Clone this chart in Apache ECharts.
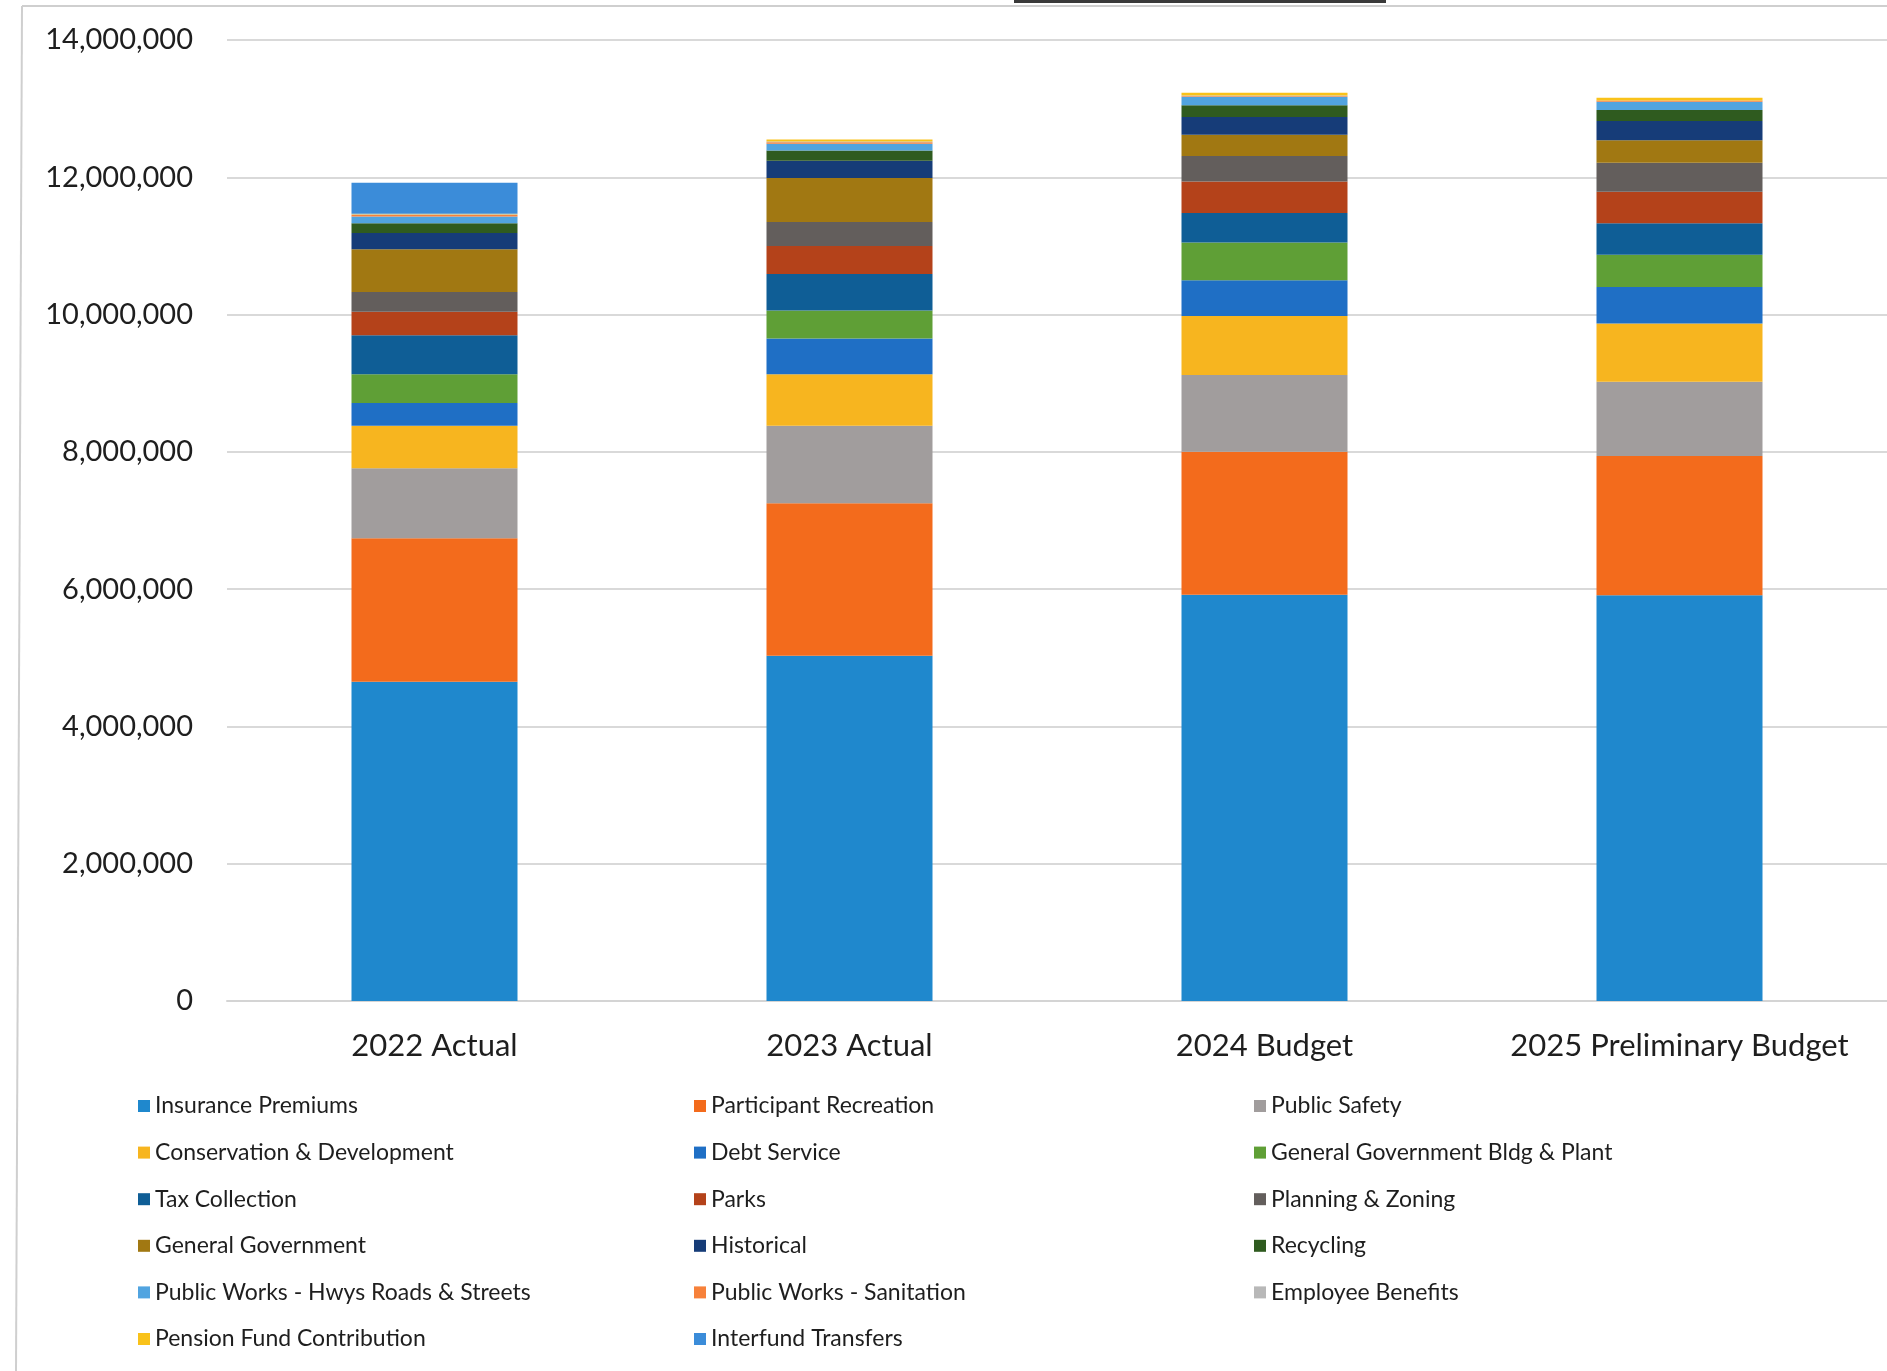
<!DOCTYPE html>
<html>
<head>
<meta charset="utf-8">
<title>Expenditures by Function</title>
<script src="https://cdn.jsdelivr.net/npm/echarts@6/dist/echarts.min.js"></script>
<style>
  html, body { margin: 0; padding: 0; background: #ffffff; }
  #chart { width: 1887px; height: 1371px; }
</style>
</head>
<body>
<div id="chart"></div>
<script>
// Budget years shown on the category axis
const categories = ['2022 Actual', '2023 Actual', '2024 Budget', '2025 Preliminary Budget'];

// Value axis ticks
const axisMin = 0;
const axisMax = 14000000;
const axisStep = 2000000;

// Spending by function, one value per year (dollars), stacked bottom to top
const insurancePremiums       = [4650000, 5030000, 5920000, 5910000];
const participantRecreation   = [2090000, 2220000, 2080000, 2030000];
const publicSafety            = [1020000, 1130000, 1120000, 1080000];
const conservationDevelopment = [620000, 750000, 860000, 850000];
const debtService             = [330000, 520000, 520000, 530000];
const genGovBldgPlant         = [420000, 410000, 550000, 470000];
const taxCollection           = [570000, 530000, 430000, 460000];
const parks                   = [340000, 410000, 460000, 460000];
const planningZoning          = [290000, 350000, 370000, 420000];
const generalGovernment       = [620000, 640000, 310000, 330000];
const historical              = [240000, 250000, 260000, 280000];
const recycling               = [140000, 150000, 170000, 160000];
const pwHwysRoadsStreets      = [100000, 100000, 120000, 120000];
const pwSanitation            = [20000, 20000, 10000, 20000];
const employeeBenefits        = [10000, 10000, 10000, 0];
const pensionFund             = [10000, 30000, 40000, 40000];
const interfundTransfers      = [450000, 0, 0, 0];

const seriesDefs = [
  ['Insurance Premiums', insurancePremiums, '#1f88cd'],
  ['Participant Recreation', participantRecreation, '#f36b1c'],
  ['Public Safety', publicSafety, '#a19d9d'],
  ['Conservation & Development', conservationDevelopment, '#f7b51f'],
  ['Debt Service', debtService, '#1f6fc5'],
  ['General Government Bldg & Plant', genGovBldgPlant, '#5f9f36'],
  ['Tax Collection', taxCollection, '#0f5e96'],
  ['Parks', parks, '#b4421a'],
  ['Planning & Zoning', planningZoning, '#635e5c'],
  ['General Government', generalGovernment, '#a17812'],
  ['Historical', historical, '#163c78'],
  ['Recycling', recycling, '#2f5b1f'],
  ['Public Works - Hwys Roads & Streets', pwHwysRoadsStreets, '#51a4e0'],
  ['Public Works - Sanitation', pwSanitation, '#f7813a'],
  ['Employee Benefits', employeeBenefits, '#b8b8b8'],
  ['Pension Fund Contribution', pensionFund, '#f9c21a'],
  ['Interfund Transfers', interfundTransfers, '#3b8cd9']
];

const FONT = 'Lato, "Noto Sans", sans-serif';
const TEXT = '#1e1e1e';

// Legend is laid out in three columns, read row by row
const names = seriesDefs.map(d => d[0]);
const legendCols = [0, 1, 2].map(c => names.filter((_, i) => i % 3 === c));
const legendLefts = [133, 689, 1249];

const legends = legendCols.map((col, c) => ({
  orient: 'vertical',
  left: legendLefts[c],
  top: 1086,
  data: col,
  icon: 'rect',
  itemWidth: 12,
  itemHeight: 12,
  itemGap: 16.6,
  selectedMode: false,
  textStyle: { fontFamily: FONT, fontSize: 23, color: TEXT, lineHeight: 30 }
}));

const chart = echarts.init(document.getElementById('chart'), null, { renderer: 'canvas' });

chart.setOption({
  backgroundColor: '#ffffff',
  animation: false,
  textStyle: { fontFamily: FONT },
  grid: { left: 227, right: -2, top: 40, bottom: 370, containLabel: false },
  legend: legends,
  xAxis: {
    type: 'category',
    data: categories,
    axisTick: { show: false },
    axisLine: { show: true, lineStyle: { color: '#d4d4d4', width: 2 } },
    axisLabel: { interval: 0, color: TEXT, fontFamily: FONT, fontSize: 31, margin: 29 }
  },
  yAxis: {
    type: 'value',
    min: axisMin,
    max: axisMax,
    interval: axisStep,
    axisLine: { show: false },
    axisTick: { show: false },
    splitLine: { lineStyle: { color: '#d9d9d9', width: 2 } },
    axisLabel: {
      color: TEXT,
      fontFamily: FONT,
      fontSize: 29,
      margin: 34,
      formatter: v => v.toLocaleString('en-US')
    }
  },
  series: seriesDefs.map(([name, values, color]) => ({
    name,
    type: 'bar',
    stack: 'total',
    data: values,
    barWidth: 166,
    itemStyle: { color },
    emphasis: { disabled: true }
  })),
  graphic: [
    // page frame
    { type: 'line', shape: { x1: 22, y1: 6, x2: 1887, y2: 6 }, style: { stroke: '#cfcfcf', lineWidth: 2 } },
    { type: 'line', shape: { x1: 22, y1: 6, x2: 16, y2: 1371 }, style: { stroke: '#cfcfcf', lineWidth: 2 } },
    // title underline
    { type: 'rect', shape: { x: 1014, y: 0, width: 372, height: 3 }, style: { fill: '#3a3a3a' } }
  ]
});
</script>
</body>
</html>
